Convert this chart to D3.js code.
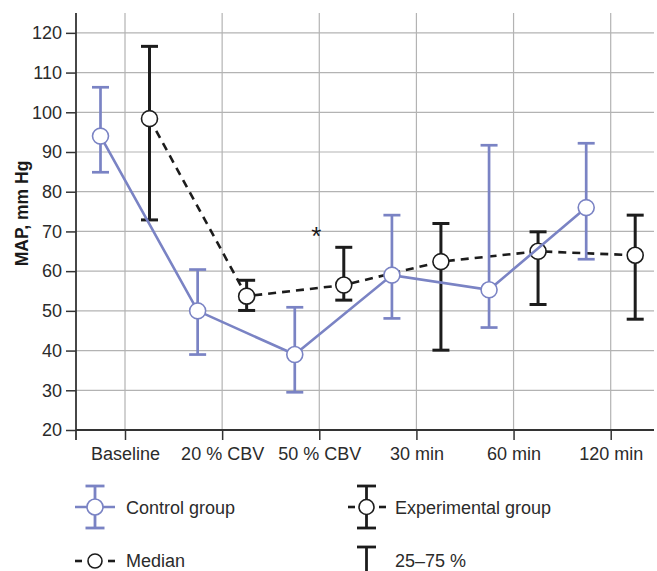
<!DOCTYPE html>
<html>
<head>
<meta charset="utf-8">
<script src="https://cdn.jsdelivr.net/npm/d3@7"></script>
<style>
body { margin: 0; background: #fff; }
text { font-family: "Liberation Sans", Arial, sans-serif; fill: #2b2b2b; }
</style>
</head>
<body>
<div id="chart"></div>
<script>
var categories = ["Baseline", "20 % CBV", "50 % CBV", "30 min", "60 min", "120 min"];
var yTicks = [20, 30, 40, 50, 60, 70, 80, 90, 100, 110, 120];

// control group: median, 25 %, 75 %
var controlMedian = [94, 50, 39, 59, 55.3, 76];
var controlLow    = [84.9, 39, 29.5, 48.1, 45.8, 63];
var controlHigh   = [106.3, 60.4, 50.9, 74.1, 91.7, 92.2];

// experimental group
var expMedian = [98.4, 53.7, 56.5, 62.4, 65, 64];
var expLow    = [72.9, 50.1, 52.7, 40.1, 51.6, 47.9];
var expHigh   = [116.6, 57.7, 66, 72, 69.9, 74.1];

var starCategory = "50 % CBV", starValue = 69.7;

var blue = "#7a83c4", black = "#1c1c1c", grid = "#b3b3b3";

var svg = d3.select("#chart").append("svg")
    .attr("width", 657)
    .attr("height", 571);

var pLeft = 76, pRight = 654, pTop = 13, pBottom = 430;

var x = d3.scalePoint().domain(categories).range([125, 610.7]);
var y = d3.scaleLinear().domain([20, 125]).range([pBottom, pTop]);
var off = 24.5;

// grid
svg.append("g").selectAll("line")
    .data(yTicks.slice(1))
  .enter().append("line")
    .attr("x1", pLeft).attr("x2", pRight)
    .attr("y1", function(d) { return y(d); })
    .attr("y2", function(d) { return y(d); })
    .attr("stroke", grid).attr("stroke-width", 1.2);

svg.append("g").selectAll("line")
    .data(categories)
  .enter().append("line")
    .attr("x1", function(d) { return x(d); })
    .attr("x2", function(d) { return x(d); })
    .attr("y1", pTop).attr("y2", pBottom)
    .attr("stroke", grid).attr("stroke-width", 1.2);

// axes
var yAxis = svg.append("g")
    .attr("transform", "translate(" + pLeft + ",0)")
    .call(d3.axisLeft(y).tickValues(yTicks).tickSize(10).tickPadding(4));
yAxis.select(".domain").remove();
yAxis.selectAll("line").attr("stroke", "#333").attr("stroke-width", 1.5);
yAxis.selectAll("text").attr("font-size", 18).attr("fill", "#2b2b2b")
    .style("font-family", "Liberation Sans, Arial, sans-serif");

var xAxis = svg.append("g")
    .attr("transform", "translate(0," + pBottom + ")")
    .call(d3.axisBottom(x).tickSize(10).tickPadding(7));
xAxis.select(".domain").remove();
xAxis.selectAll("line").attr("stroke", "#333").attr("stroke-width", 1.5);
xAxis.selectAll("text").attr("font-size", 18).attr("fill", "#2b2b2b")
    .style("font-family", "Liberation Sans, Arial, sans-serif");

svg.append("line").attr("x1", pLeft).attr("x2", pLeft).attr("y1", pTop).attr("y2", pBottom + 10)
    .attr("stroke", "#333").attr("stroke-width", 1.8);
svg.append("line").attr("x1", pLeft).attr("x2", pRight).attr("y1", pBottom).attr("y2", pBottom)
    .attr("stroke", "#333").attr("stroke-width", 1.8);

svg.append("text")
    .attr("transform", "translate(28,213.5) rotate(-90)")
    .attr("text-anchor", "middle")
    .attr("font-size", 17.5)
    .attr("font-weight", "bold")
    .style("fill", "#1a1a1a")
    .text("MAP, mm Hg");

function series(median, low, high, dx, color, dashed, sw) {
  var g = svg.append("g");
  var line = d3.line()
      .x(function(d, i) { return x(categories[i]) + dx; })
      .y(function(d) { return y(d); });
  g.append("path")
      .datum(median)
      .attr("d", line)
      .attr("fill", "none")
      .attr("stroke", color)
      .attr("stroke-width", 2.6)
      .attr("stroke-dasharray", dashed ? "8,6" : null);
  var bars = g.selectAll("g.bar")
      .data(categories)
    .enter().append("g");
  bars.append("line")
      .attr("x1", function(d) { return x(d) + dx; })
      .attr("x2", function(d) { return x(d) + dx; })
      .attr("y1", function(d, i) { return y(low[i]); })
      .attr("y2", function(d, i) { return y(high[i]); })
      .attr("stroke", color).attr("stroke-width", sw);
  [low, high].forEach(function(arr) {
    bars.append("line")
        .attr("x1", function(d) { return x(d) + dx - 8.5; })
        .attr("x2", function(d) { return x(d) + dx + 8.5; })
        .attr("y1", function(d, i) { return y(arr[i]); })
        .attr("y2", function(d, i) { return y(arr[i]); })
        .attr("stroke", color).attr("stroke-width", sw);
  });
  bars.append("circle")
      .attr("cx", function(d) { return x(d) + dx; })
      .attr("cy", function(d, i) { return y(median[i]); })
      .attr("r", 8)
      .attr("fill", "#fff")
      .attr("stroke", color)
      .attr("stroke-width", 1.6);
}

series(expMedian, expLow, expHigh, off, black, true, 3);
series(controlMedian, controlLow, controlHigh, -off, blue, false, 2.7);

svg.append("text")
    .attr("x", x(starCategory) - 3)
    .attr("y", y(starValue) + 12)
    .attr("text-anchor", "middle")
    .attr("font-size", 26)
    .style("fill", "#1a1a1a")
    .text("*");

// legend
var lg = svg.append("g");
function hline(x1, x2, yy, color, w) {
  lg.append("line").attr("x1", x1).attr("x2", x2).attr("y1", yy).attr("y2", yy)
      .attr("stroke", color).attr("stroke-width", w);
}
function legendBar(cx, cy, color) {
  hline(cx - 9.5, cx + 9.5, cy - 21, color, 2.8);
  lg.append("line").attr("x1", cx).attr("x2", cx).attr("y1", cy - 21).attr("y2", cy + 21)
      .attr("stroke", color).attr("stroke-width", 2.8);
  hline(cx - 9.5, cx + 9.5, cy + 21, color, 2.8);
}
function legendCircle(cx, cy, color, r) {
  lg.append("circle").attr("cx", cx).attr("cy", cy).attr("r", r)
      .attr("fill", "#fff").attr("stroke", color).attr("stroke-width", 1.6);
}
function legendText(tx, ty, s) {
  lg.append("text").attr("x", tx).attr("y", ty).attr("font-size", 18).text(s);
}

// control group
legendBar(95, 507, blue);
hline(75, 115, 507, blue, 2.6);
legendCircle(95, 507, blue, 8);
legendText(126, 514, "Control group");

// experimental group
legendBar(366.5, 507, black);
hline(348, 355, 507, black, 2.6);
hline(379, 386, 507, black, 2.6);
legendCircle(366.5, 507, black, 7.5);
legendText(395, 514, "Experimental group");

// median
hline(75, 82, 561, black, 2.6);
hline(108, 115, 561, black, 2.6);
legendCircle(95, 561, black, 7);
legendText(126, 567, "Median");

// 25-75 %
hline(357, 376, 547, black, 2.8);
lg.append("line").attr("x1", 366.5).attr("x2", 366.5).attr("y1", 547).attr("y2", 571)
    .attr("stroke", black).attr("stroke-width", 2.8);
legendText(395, 567, "25–75 %");
</script>
</body>
</html>
